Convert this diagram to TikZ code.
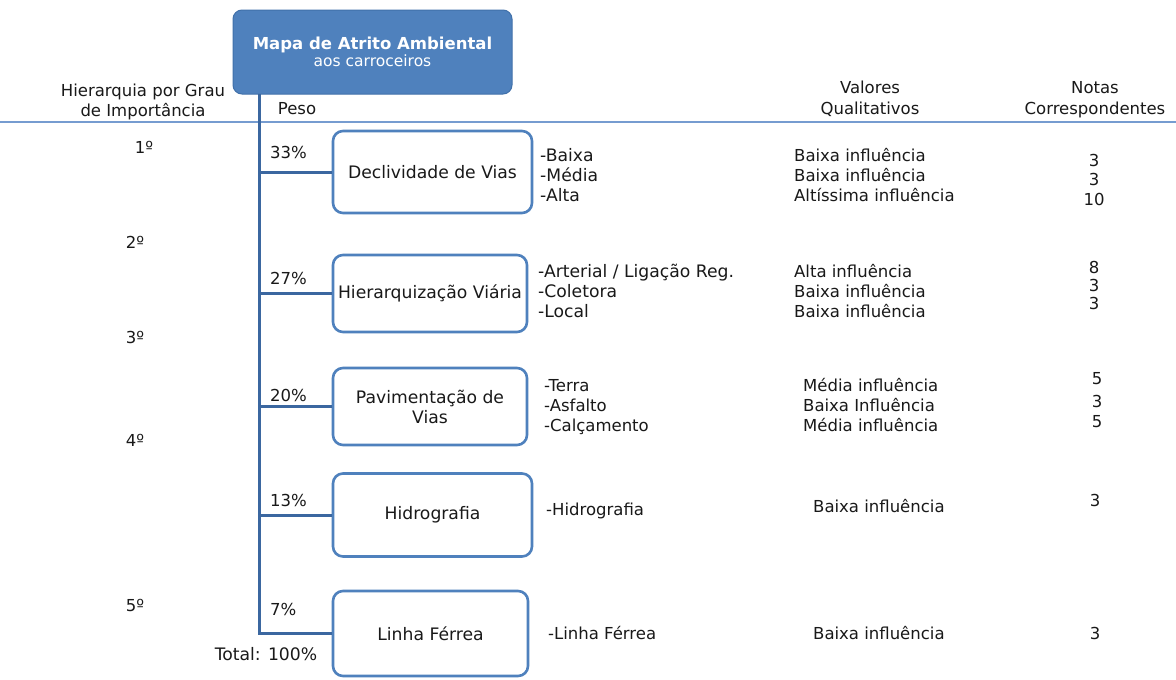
\documentclass[tikz,border=0pt]{standalone}
\usepackage{fontspec}
\setmainfont{DejaVu Sans}
\definecolor{titlefill}{RGB}{79,129,189}
\definecolor{titleedge}{RGB}{65,113,170}
\definecolor{boxedge}{RGB}{79,129,189}
\definecolor{trunk}{RGB}{59,103,160}
\definecolor{rulecol}{RGB}{118,156,208}
\definecolor{ink}{RGB}{25,25,25}
\newcommand\fs{\fontsize{16.5}{19.5}\selectfont}
\newcommand\fb{\fontsize{17.2}{20}\selectfont}
\tikzset{
  titlebox/.style={draw=titleedge, line width=1pt, fill=titlefill, rounded corners=9pt, minimum width=279pt, minimum height=84pt, text=white, align=center, font=\fs, inner sep=0pt},
  catbox/.style={draw=boxedge, line width=2.6pt, fill=white, rounded corners=10pt, align=center, font=\fb, text=ink, inner sep=0pt},
  trunkline/.style={draw=trunk, line width=3pt},
  rulerline/.style={draw=rulecol, line width=1.6pt},
  lbl/.style={font=\fs, text=ink, inner sep=0pt, text height=1.5ex, text depth=.3ex},
  item/.style={lbl, anchor=west},
  itemb/.style={item, font=\fb},
  num/.style={lbl, anchor=center},
}
\begin{document}
\begin{tikzpicture}[x=1pt,y=-1pt]
\useasboundingbox[fill=white] (0,0) rectangle (1176,680);
% rule
\coordinate (ruleL) at (0,122);
\coordinate (ruleR) at (1176,122);
\draw[rulerline] (ruleL) -- (ruleR);
% title
\node[titlebox] (title) at (372.5,52) {\textbf{Mapa de Atrito Ambiental}\\[-3pt]{\fontsize{15.5}{17}\selectfont aos carroceiros}};
% boxes
\node[catbox, minimum width=199pt, minimum height=82pt] (decl) at (432.5,172) {Declividade de Vias};
\node[catbox, minimum width=194pt, minimum height=77pt] (hier) at (430,293.5) {Hierarquização Viária};
\node[catbox, minimum width=194pt, minimum height=77pt] (pav) at (430,406.5) {Pavimentação de\\Vias};
\node[catbox, minimum width=199pt, minimum height=83pt] (hid) at (432.5,515) {Hidrografia};
\node[catbox, minimum width=195pt, minimum height=85pt] (lin) at (430.5,633.5) {Linha Férrea};
% trunk
\coordinate (trunkTop) at (259,94);
\coordinate (trunkBot) at (259,633.5);
\draw[trunkline] (trunkTop) -- (trunkBot) -- (lin.west);
\draw[trunkline] (decl.west -| trunkTop) -- (decl.west);
\draw[trunkline] (hier.west -| trunkTop) -- (hier.west);
\draw[trunkline] (pav.west -| trunkTop) -- (pav.west);
\draw[trunkline] (hid.west -| trunkTop) -- (hid.west);
% headers
\node[lbl, align=center, text height=, text depth=] (hdrA) at (143,102) {Hierarquia por Grau\\de Importância};
\node[num] (peso) at (297,111) {Peso};
\node[num] (valA) at (870,90) {Valores};
\node[num] (valB) at (870,111) {Qualitativos};
\node[num] (notA) at (1095,90) {Notas};
\node[num] (notB) at (1095,111) {Correspondentes};
% ranks
\node[num] (r1) at (144,150) {1º};
\node[num] (r2) at (135,245) {2º};
\node[num] (r3) at (135,340) {3º};
\node[num] (r4) at (135,443) {4º};
\node[num] (r5) at (135,608) {5º};
% weights
\node[item] (p1) at (270,155) {33\%};
\node[item] (p2) at (270,281) {27\%};
\node[item] (p3) at (270,398) {20\%};
\node[item] (p4) at (270,503) {13\%};
\node[item] (p5) at (270,612) {7\%};
\node[num, font=\fb] (tot) at (266,657) {Total: 100\%};
% Declividade rows
\node[itemb] (d1) at (540,158) {-Baixa};
\node[itemb] (d2) at (540,178) {-Média};
\node[itemb] (d3) at (540,198) {-Alta};
\node[item] (dq1) at (794,158) {Baixa influência};
\node[item] (dq2) at (794,178) {Baixa influência};
\node[item] (dq3) at (794,198) {Altíssima influência};
\node[num] (dn1) at (1094,163) {3};
\node[num] (dn2) at (1094,182) {3};
\node[num] (dn3) at (1094,202) {10};
% Hierarquizacao rows
\node[itemb] (h1) at (538,274) {-Arterial / Ligação Reg.};
\node[itemb] (h2) at (538,294) {-Coletora};
\node[itemb] (h3) at (538,314) {-Local};
\node[item] (hq1) at (794,274) {Alta influência};
\node[item] (hq2) at (794,294) {Baixa influência};
\node[item] (hq3) at (794,314) {Baixa influência};
\node[num] (hn1) at (1094,270) {8};
\node[num] (hn2) at (1094,288) {3};
\node[num] (hn3) at (1094,306) {3};
% Pavimentacao rows
\node[item] (v1) at (544,388) {-Terra};
\node[item] (v2) at (544,408) {-Asfalto};
\node[item] (v3) at (544,428) {-Calçamento};
\node[item] (vq1) at (803,388) {Média influência};
\node[item] (vq2) at (803,408) {Baixa Influência};
\node[item] (vq3) at (803,428) {Média influência};
\node[num] (vn1) at (1097,381) {5};
\node[num] (vn2) at (1097,404) {3};
\node[num] (vn3) at (1097,424) {5};
% Hidrografia row
\node[item] (g1) at (546,512) {-Hidrografia};
\node[item] (gq1) at (813,509) {Baixa influência};
\node[num] (gn1) at (1095,503) {3};
% Linha Ferrea row
\node[item] (l1) at (548,636) {-Linha Férrea};
\node[item] (lq1) at (813,636) {Baixa influência};
\node[num] (ln1) at (1095,636) {3};
\end{tikzpicture}
\end{document}
